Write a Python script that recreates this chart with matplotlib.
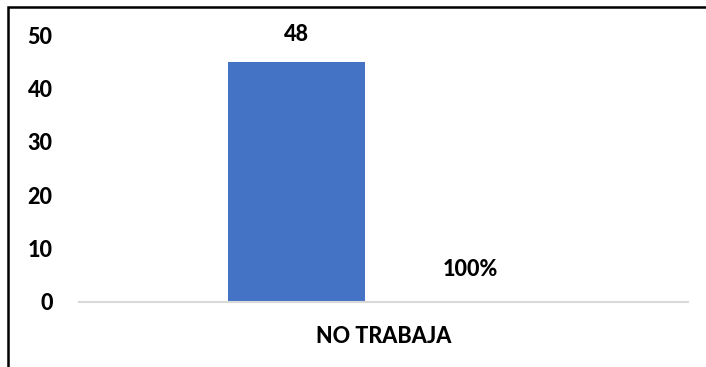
import matplotlib
matplotlib.use("Agg")
import matplotlib.pyplot as plt
from matplotlib.patches import Rectangle

categories = ["NO TRABAJA"]
count_heights = [45]
count_labels = ["48"]
pct_heights = [0]
pct_labels = ["100%"]
yticks = [0, 10, 20, 30, 40, 50]

plt.rcParams['font.family'] = ['Lato', 'DejaVu Sans']
FW = 900
FS = 15.5

fig = plt.figure(figsize=(7.06, 3.67), dpi=100)
ax = fig.add_axes([79/706, 1-302/367, (688-79)/706, (302-35)/367])

w = 0.225
off = 0.1425
xs = list(range(len(categories)))
b1 = ax.bar([x - off for x in xs], count_heights, width=w, color='#4472C4')
b2 = ax.bar([x + off for x in xs], pct_heights, width=w, color='#ED7D31')

for rect, lab in zip(b1, count_labels):
    ax.annotate(lab, (rect.get_x() + rect.get_width()/2, rect.get_height()),
                xytext=(0, 27*0.72), textcoords='offset points', ha='center', va='center',
                fontsize=FS, fontweight=FW, annotation_clip=False)
for rect, lab in zip(b2, pct_labels):
    ax.annotate(lab, (rect.get_x() + rect.get_width()/2, rect.get_height()),
                xytext=(0, 32*0.72), textcoords='offset points', ha='center', va='center',
                fontsize=FS, fontweight=FW, annotation_clip=False)

ax.set_xlim(-0.5, 0.5)
ax.set_ylim(0, 50)
ax.set_yticks(yticks)
ax.set_yticklabels([str(t) for t in yticks], fontsize=FS, fontweight=FW)
ax.set_xticks(xs)
ax.set_xticklabels(categories, fontsize=FS, fontweight=FW)
ax.tick_params(axis='both', length=0)
ax.tick_params(axis='y', pad=19)
ax.tick_params(axis='x', pad=17)
for s in ['left', 'right', 'top']:
    ax.spines[s].set_visible(False)
ax.spines['bottom'].set_color('#D9D9D9')
ax.spines['bottom'].set_linewidth(1.5)

fig.patches.append(Rectangle((8/706, -0.1), 1.2, 1 - 7/367 + 0.1, transform=fig.transFigure,
                             fill=False, edgecolor='black', linewidth=1.8))

fig.savefig('out.png', dpi=100)
